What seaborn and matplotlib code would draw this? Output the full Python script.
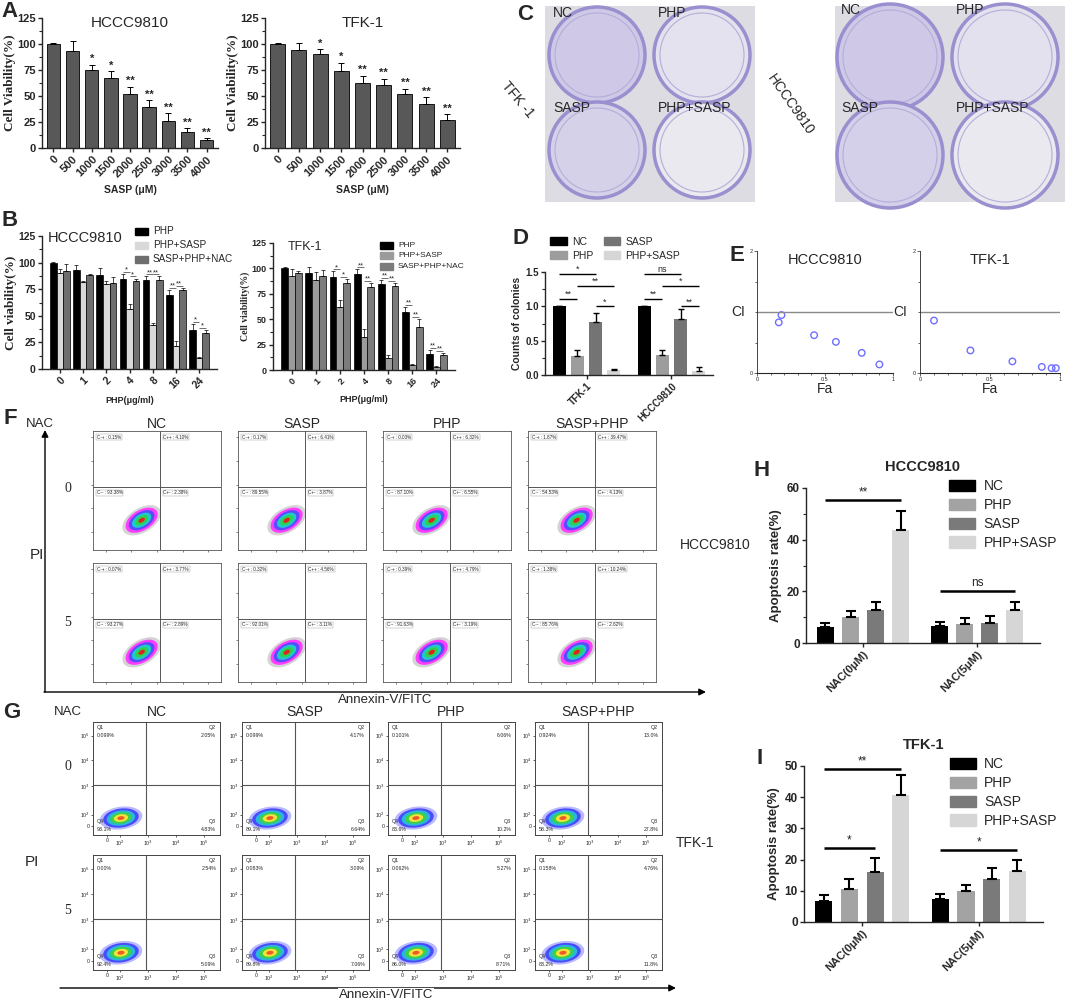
import numpy as np
import pandas as pd
import matplotlib
matplotlib.use('Agg')
import matplotlib.pyplot as plt
import matplotlib.colors as mcolors
from matplotlib.patches import Circle, Ellipse, Rectangle
from matplotlib.ticker import MultipleLocator, AutoMinorLocator
import seaborn as sns

W, H = 1065, 1002

# ---------------- A: SASP dose response
sasp_dose = ['0', '500', '1000', '1500', '2000', '2500', '3000', '3500', '4000']
a_hccc = [100, 93, 75, 67, 52, 39, 26, 15, 8]
a_hccc_err = [0.5, 10, 5, 7, 7, 7, 7.5, 4, 1.5]
a_tfk = [100, 94, 90, 74, 62.5, 61, 52, 42, 26.5]
a_tfk_err = [1, 6.5, 5, 8, 7, 5.5, 5, 7, 6]
a_stars = ['', '', '*', '*', '**', '**', '**', '**', '**']

# ---------------- B: PHP dose response
php_dose = ['0', '1', '2', '4', '8', '16', '24']
b_groups = ['PHP', 'PHP+SASP', 'SASP+PHP+NAC']
b_hccc_php = [100, 93, 88, 85, 84, 70, 37]
b_hccc_php_err = [0.5, 5, 7, 4, 3, 4, 5]
b_hccc_combo = [90, 82, 80, 56, 41, 22, 10]
b_hccc_combo_err = [4, 1, 3, 5, 2, 4, 1]
b_hccc_nac = [92, 88, 81, 83, 84, 74, 34]
b_hccc_nac_err = [7, 1, 5, 2, 3, 2, 3]
b_hccc_stars = [[], [], [], ['*', '*'], ['**', '**'], ['**', '**'], ['*', '*']]
b_tfk_php = [100, 95, 92, 94, 85, 57, 16]
b_tfk_php_err = [1, 6, 5, 5, 4, 5, 4]
b_tfk_combo = [93, 89, 62, 32, 12, 5, 3]
b_tfk_combo_err = [6, 7, 7, 8, 3, 1, 0.5]
b_tfk_nac = [95, 93, 86, 82, 83, 42, 15]
b_tfk_nac_err = [2, 5, 4, 4, 3, 8, 2]
b_tfk_stars = [[], [], ['*', '*'], ['**', '**'], ['**', '**'], ['**', '**'], ['**', '**']]

# ---------------- C / D: colony formation
d_lines = ['TFK-1', 'HCCC9810']
d_groups = ['NC', 'PHP', 'SASP', 'PHP+SASP']
d_nc = [1.0, 1.0]
d_nc_err = [0.0, 0.0]
d_php = [0.28, 0.29]
d_php_err = [0.09, 0.08]
d_sasp = [0.77, 0.81]
d_sasp_err = [0.14, 0.15]
d_combo = [0.07, 0.06]
d_combo_err = [0.02, 0.05]
# (line index, group a, group b, height, label)
d_sig = [(0, 0, 2, 1.47, '*'), (0, 1, 3, 1.30, '**'), (0, 0, 1, 1.11, '**'), (0, 2, 3, 1.00, '*'),
         (1, 0, 2, 1.47, 'ns'), (1, 1, 3, 1.30, '*'), (1, 0, 1, 1.11, '**'), (1, 2, 3, 1.00, '**')]

# ---------------- E: combination index
e_hccc_fa = [0.16, 0.18, 0.42, 0.58, 0.77, 0.90]
e_hccc_ci = [0.83, 0.95, 0.62, 0.51, 0.33, 0.14]
e_tfk_fa = [0.10, 0.36, 0.66, 0.87, 0.94, 0.97]
e_tfk_ci = [0.86, 0.37, 0.19, 0.10, 0.08, 0.08]

# ---------------- F / G: flow cytometry quadrants
flow_conds = ['NC', 'SASP', 'PHP', 'SASP+PHP']
nac_levels = ['0', '5']
f_ul = [[0.15, 0.17, 0.03, 1.87], [0.07, 0.32, 0.39, 1.38]]
f_ur = [[4.10, 6.41, 6.32, 39.47], [3.77, 4.56, 4.79, 10.24]]
f_ll = [[93.38, 89.55, 87.10, 54.53], [93.27, 92.01, 91.63, 85.76]]
f_lr = [[2.38, 3.87, 6.55, 4.13], [2.89, 3.11, 3.19, 2.62]]
g_q1 = [['0.099%', '0.099%', '0.101%', '0.924%'], ['0.00%', '0.083%', '0.062%', '0.158%']]
g_q2 = [['2.05%', '4.17%', '6.06%', '13.0%'], ['2.54%', '3.09%', '5.27%', '4.76%']]
g_q4 = [['93.1%', '89.1%', '83.6%', '58.3%'], ['92.4%', '89.8%', '86.0%', '83.2%']]
g_q3 = [['4.83%', '6.64%', '10.2%', '27.8%'], ['5.09%', '7.06%', '8.71%', '11.8%']]

# ---------------- H / I: apoptosis
nac_cats = ['NAC(0\u03bcM)', 'NAC(5\u03bcM)']
h_nc = [6.2, 6.5]
h_nc_err = [1.5, 1.7]
h_php = [10.1, 7.5]
h_php_err = [2.2, 2.2]
h_sasp = [12.7, 7.8]
h_sasp_err = [3.2, 2.6]
h_combo = [43.8, 12.7]
h_combo_err = [7.4, 3.2]
h_sig = [(0, 0, 3, 55.4, '**'), (1, 0, 3, 20.2, 'ns')]
i_nc = [6.8, 7.5]
i_nc_err = [1.8, 1.6]
i_php = [10.7, 10.0]
i_php_err = [3.0, 2.0]
i_sasp = [16.1, 13.9]
i_sasp_err = [4.3, 3.5]
i_combo = [40.8, 16.5]
i_combo_err = [6.2, 3.5]
i_sig = [(0, 0, 3, 49.0, '**'), (0, 0, 2, 23.6, '*'), (1, 0, 3, 23.0, '*')]

sns.set_style('ticks')
plt.rcParams['font.family'] = ['Liberation Sans', 'DejaVu Sans']
plt.rcParams['axes.linewidth'] = 1.0
SERIF = ['Liberation Serif', 'DejaVu Serif']

fig = plt.figure(figsize=(W / 100, H / 100), dpi=100)


def rect(l, t, r, b):
    return [l / W, 1 - b / H, (r - l) / W, (b - t) / H]


def bars(ax, cats, series, errs, names, colors, width=0.8, gap=0.0, lw=0.6, elw=0.6, cap=2):
    rows = []
    for name, vals in zip(names, series):
        for c, v in zip(cats, vals):
            rows.append({'cat': c, 'val': v, 'grp': name})
    df = pd.DataFrame(rows)
    sns.barplot(data=df, x='cat', y='val', hue='grp', order=cats, hue_order=names,
                palette=colors, width=width, gap=gap, edgecolor='black', linewidth=lw,
                errorbar=None, legend=False, ax=ax)
    centers = []
    for cont, vals, err in zip(ax.containers, series, errs):
        xs = [p.get_x() + p.get_width() / 2 for p in cont.patches]
        ax.errorbar(xs, vals, yerr=[np.zeros(len(vals)), err], fmt='none', ecolor='black',
                    elinewidth=elw, capsize=cap, capthick=elw)
        centers.append(xs)
    sns.despine(ax=ax)
    ax.set_xlabel('')
    ax.set_ylabel('')
    return centers


def bold_ticks(ax, size, rot=45):
    ax.tick_params(axis='both', labelsize=size, width=1, length=3, pad=1.5)
    ax.tick_params(axis='y', which='minor', length=2, width=0.8)
    for lbl in ax.get_yticklabels():
        lbl.set_fontweight('bold')
    for lbl in ax.get_xticklabels():
        lbl.set_fontweight('bold')
        lbl.set_rotation(rot)
        lbl.set_ha('right' if rot else 'center')
        lbl.set_rotation_mode('anchor')


def sig(ax, x1, x2, y, label, lw=0.6, fs=6, dy=0.0):
    ax.plot([x1, x2], [y, y], color='black', lw=lw, solid_capstyle='butt')
    ax.text((x1 + x2) / 2, y + dy, label, ha='center', va='bottom', fontsize=fs)


# ======== Panel A
for (l, r), vals, errs, title in [((42, 218), a_hccc, a_hccc_err, 'HCCC9810'),
                                  ((265, 460), a_tfk, a_tfk_err, 'TFK-1')]:
    ax = fig.add_axes(rect(l, 18, r, 148))
    cx = bars(ax, sasp_dose, [vals], [errs], ['v'], ['#585858'], width=0.7, lw=0.6,
              elw=0.7, cap=2.5)[0]
    for x, v, e, s in zip(cx, vals, errs, a_stars):
        ax.text(x, v + e + 0.5, s, ha='center', va='bottom', fontsize=8, fontweight='bold')
    ax.set_ylim(0, 125)
    ax.set_xlim(-0.6, len(sasp_dose) - 0.4)
    ax.yaxis.set_major_locator(MultipleLocator(25))
    ax.yaxis.set_minor_locator(AutoMinorLocator(2))
    bold_ticks(ax, 8)
    ax.set_ylabel('Cell Viability(%)', family=SERIF, fontweight='bold', fontsize=9.5, labelpad=1)
    ax.text(0.5, 0.96, title, transform=ax.transAxes, ha='center', va='center', fontsize=11)
    ax.set_xlabel('SASP (\u03bcM)', fontweight='bold', fontsize=7.5, labelpad=4)

# ======== Panel B
b_sets = [((42, 236, 217, 369), [b_hccc_php, b_hccc_combo, b_hccc_nac],
           [b_hccc_php_err, b_hccc_combo_err, b_hccc_nac_err], b_hccc_stars,
           ['#000000', '#d9d9d9', '#6e6e6e'], 'HCCC9810', 7.5, 9.5),
          ((273, 243, 455, 370), [b_tfk_php, b_tfk_combo, b_tfk_nac],
           [b_tfk_php_err, b_tfk_combo_err, b_tfk_nac_err], b_tfk_stars,
           ['#000000', '#9b9b9b', '#7c7c7c'], 'TFK-1', 6.5, 7)]
b_axes = []
for box, series, errs, stars, cols, title, tfs, yfs in b_sets:
    ax = fig.add_axes(rect(*box))
    cx = bars(ax, php_dose, series, errs, b_groups, cols, width=0.85, lw=0.5, elw=0.5, cap=1.5)
    for k, st in enumerate(stars):
        if not st:
            continue
        for (g1, g2), s in zip([(0, 1), (1, 2)], st):
            top = max(series[g1][k] + errs[g1][k], series[g2][k] + errs[g2][k]) + 2
            sig(ax, cx[g1][k], cx[g2][k], top, s, lw=0.4, fs=5.5, dy=-1.5)
    ax.set_ylim(0, 125)
    ax.yaxis.set_major_locator(MultipleLocator(25))
    ax.yaxis.set_minor_locator(AutoMinorLocator(2))
    bold_ticks(ax, tfs)
    ax.set_ylabel('Cell viability(%)', family=SERIF, fontweight='bold', fontsize=yfs, labelpad=1)
    ax.set_xlabel('PHP(\u03bcg/ml)', fontweight='bold', fontsize=6.5, labelpad=4)
    b_axes.append((ax, cols))

# ======== Panel D
ax = fig.add_axes(rect(545, 272, 713, 375))
d_cols = ['#000000', '#9d9d9d', '#747474', '#d6d6d6']
dc = bars(ax, d_lines, [d_nc, d_php, d_sasp, d_combo],
          [d_nc_err, d_php_err, d_sasp_err, d_combo_err], d_groups, d_cols,
          width=0.85, gap=0.25, lw=0.0, elw=1.0, cap=2.5)
for li, g1, g2, y, lab in d_sig:
    sig(ax, dc[g1][li], dc[g2][li], y, lab, lw=1.0, fs=6.5, dy=0.0)
ax.set_ylim(0, 1.5)
ax.yaxis.set_major_locator(MultipleLocator(0.5))
ax.yaxis.set_major_formatter(matplotlib.ticker.FormatStrFormatter('%.1f'))
ax.yaxis.set_minor_locator(AutoMinorLocator(2))
bold_ticks(ax, 7)
ax.set_ylabel('Counts of colonies', fontweight='bold', fontsize=7.5, labelpad=2)
ax.legend(handles=[Rectangle((0, 0), 1, 1, color=c) for c in d_cols], labels=d_groups,
          ncol=2, loc='lower left', bbox_to_anchor=(0.0, 1.06), frameon=False, fontsize=7.5,
          handlelength=1.6, handleheight=0.8, columnspacing=1.0, handletextpad=0.5,
          labelspacing=0.35, borderpad=0)

# ======== Panel E
for (l, r), fa, ci, title in [((757, 893), e_hccc_fa, e_hccc_ci, 'HCCC9810'),
                              ((920, 1060), e_tfk_fa, e_tfk_ci, 'TFK-1')]:
    ax = fig.add_axes(rect(l, 251, r, 373))
    ax.axhline(1, color='#8a8a8a', lw=1.0)
    sns.scatterplot(x=fa, y=ci, ax=ax, marker='o', s=22, facecolors='none',
                    edgecolor='#6f6fff', linewidth=1.0)
    ax.set_xlim(0, 1)
    ax.set_ylim(0, 2)
    sns.despine(ax=ax)
    ax.spines['left'].set_linewidth(0.6)
    ax.spines['bottom'].set_linewidth(0.8)
    ax.set_xticks([0, 0.5, 1], ['0', '0.5', '1'])
    ax.xaxis.set_minor_locator(MultipleLocator(0.1))
    ax.set_yticks([0, 2], ['0', '2'])
    ax.yaxis.set_minor_locator(MultipleLocator(0.5))
    ax.tick_params(labelsize=4, length=2, width=0.5, pad=1)
    ax.tick_params(which='minor', length=1.5, width=0.5)
    ax.set_xlabel('Fa', fontsize=10, labelpad=0)
    ax.text(0.5, 0.93, title, transform=ax.transAxes, ha='center', va='center', fontsize=10.5)
    ax.text(-0.09, 1, 'CI', transform=ax.get_yaxis_transform(), ha='right', va='center',
            fontsize=10)

# ======== Panels H and I
hi_cols = ['#000000', '#a3a3a3', '#7a7a7a', '#d6d6d6']
for box, series, errs, sigs, title, step, top in [
        ((806, 488, 1040, 643), [h_nc, h_php, h_sasp, h_combo],
         [h_nc_err, h_php_err, h_sasp_err, h_combo_err], h_sig, 'HCCC9810', 20, 60),
        ((804, 766, 1043, 922), [i_nc, i_php, i_sasp, i_combo],
         [i_nc_err, i_php_err, i_sasp_err, i_combo_err], i_sig, 'TFK-1', 10, 50)]:
    ax = fig.add_axes(rect(*box))
    cx = bars(ax, nac_cats, series, errs, d_groups, hi_cols, width=0.88, gap=0.33,
              lw=0.0, elw=1.5, cap=3.5)
    for li, g1, g2, y, lab in sigs:
        sig(ax, cx[g1][li], cx[g2][li], y, lab, lw=1.8, fs=8.5, dy=top * 0.01)
    ax.set_ylim(0, top)
    ax.set_xlim(-0.5, 1.55)
    ax.yaxis.set_major_locator(MultipleLocator(step))
    if step == 20:
        ax.yaxis.set_minor_locator(AutoMinorLocator(2))
    bold_ticks(ax, 8.5)
    for lbl in ax.get_xticklabels():
        lbl.set_fontsize(8)
    ax.set_ylabel('Apoptosis rate(%)', fontweight='bold', fontsize=9.5, labelpad=3)
    ax.set_title(title, fontweight='bold', fontsize=10.5, pad=12)
    ax.legend(handles=[Rectangle((0, 0), 1, 1, color=c) for c in hi_cols], labels=d_groups,
              loc='upper left', bbox_to_anchor=(0.58, 1.1), frameon=False, fontsize=10,
              handlelength=1.9, handleheight=0.9, labelspacing=0.35, handletextpad=0.6,
              borderpad=0)


# ======== Panels F and G (flow cytometry quadrant summaries)
def blob(ax, x, y, w, h, ang, colors):
    for k, c in enumerate(colors):
        f = 1 - k / len(colors)
        ax.add_patch(Ellipse((x, y), w * f, h * f, angle=ang, color=c, lw=0, zorder=1))


f_cols = [93, 238, 383, 528]
f_rows = [(431, 550), (563, 682)]
for ri, (t, b) in enumerate(f_rows):
    for ci, l in enumerate(f_cols):
        ax = fig.add_axes(rect(l, t, l + 128, b))
        ax.set_xlim(0, 1)
        ax.set_ylim(0, 1)
        blob(ax, 0.38, 0.25, 0.34, 0.2, 35,
             ['#d4d4d4', '#ff3dff', '#5a4bff', '#22c9c9', '#2bd24b', '#e0231f'])
        ax.axvline(0.52, color='#555555', lw=0.7)
        ax.axhline(0.53, color='#555555', lw=0.7)
        box = dict(boxstyle='square,pad=0.15', fc='white', ec='#999999', lw=0.3)
        kw = dict(fontsize=3.3, va='top', ha='left', bbox=box, zorder=3)
        ax.text(0.03, 0.97, 'C-+ : %.2f%%' % f_ul[ri][ci], **kw)
        ax.text(0.55, 0.97, 'C++ : %.2f%%' % f_ur[ri][ci], **kw)
        ax.text(0.03, 0.50, 'C-- : %.2f%%' % f_ll[ri][ci], **kw)
        ax.text(0.55, 0.50, 'C+- : %.2f%%' % f_lr[ri][ci], **kw)
        ax.set_xticks([0.1, 0.3, 0.5, 0.7, 0.9], [])
        ax.set_yticks([0.15, 0.35, 0.55, 0.75, 0.95], [])
        ax.tick_params(length=1.5, width=0.4)
        for sp in ax.spines.values():
            sp.set_linewidth(0.6)
            sp.set_color('#555555')

g_cols = [93, 242, 388, 535]
g_rows = [(722, 835), (855, 970)]
g_tick_x = [0.11, 0.21, 0.43, 0.65, 0.875]
g_tick_y = [0.08, 0.18, 0.43, 0.66, 0.88]
g_tick_lab = ['0', '10$^2$', '10$^3$', '10$^4$', '10$^5$']
for ri, (t, b) in enumerate(g_rows):
    for ci, l in enumerate(g_cols):
        ax = fig.add_axes(rect(l, t, l + 127, b))
        ax.set_xlim(0, 1)
        ax.set_ylim(0, 1)
        blob(ax, 0.22, 0.15, 0.34, 0.2, 10,
             ['#b9b9ff', '#4a4aff', '#27b9d9', '#3fcf4b', '#f2e43a', '#f05a28'])
        ax.axvline(0.42, color='#555555', lw=0.8)
        ax.axhline(0.44, color='#555555', lw=0.8)
        kw = dict(fontsize=3.8, linespacing=1.6, zorder=3)
        ax.text(0.03, 0.97, 'Q1\n' + g_q1[ri][ci], va='top', ha='left', **kw)
        ax.text(0.97, 0.97, 'Q2\n' + g_q2[ri][ci], va='top', ha='right', **kw)
        ax.text(0.03, 0.03, 'Q4\n' + g_q4[ri][ci], va='bottom', ha='left', **kw)
        ax.text(0.97, 0.03, 'Q3\n' + g_q3[ri][ci], va='bottom', ha='right', **kw)
        ax.set_xticks(g_tick_x, g_tick_lab)
        ax.set_yticks(g_tick_y, g_tick_lab)
        ax.tick_params(labelsize=3.8, length=1.5, width=0.5, pad=1)
        for sp in ax.spines.values():
            sp.set_linewidth(0.7)
            sp.set_color('#444444')

# ======== overlay: labels, legends of B, colony plates (C), frames
bg = fig.add_axes([0, 0, 1, 1])
bg.set_xlim(0, W)
bg.set_ylim(H, 0)
bg.axis('off')
bg.set_zorder(5)

for lab, x, y in [('A', 9, 11), ('B', 10, 220), ('C', 525, 14), ('D', 520, 238),
                  ('E', 737, 255), ('F', 10, 418), ('G', 12, 712), ('H', 762, 470),
                  ('I', 760, 758)]:
    bg.text(x, y, lab, fontsize=16, fontweight='bold', ha='center', va='center')

# B titles and legends
bg.text(85, 238, 'HCCC9810', fontsize=10.5, ha='center', va='center')
bg.text(305, 247, 'TFK-1', fontsize=9, ha='center', va='center')
for (hx, y0, dy, fs), (_, cols) in zip([(135, 231, 14, 7.2), (380, 245, 10.5, 6.0)], b_axes):
    for k, (name, c) in enumerate(zip(b_groups, cols)):
        bg.add_patch(Rectangle((hx, y0 + k * dy - 3.5), 13, 7, color=c))
        bg.text(hx + 18, y0 + k * dy, name, fontsize=fs, va='center', ha='left')

# C: colony plates, stain intensity follows colony counts of panel D
clean = np.array(mcolors.to_rgb('#ecebf1'))
stain = np.array(mcolors.to_rgb('#8a7ad0'))
for (x0, x1), line_idx, (cxs, cys, r) in [((545, 755), 0, ((597, 702), (55, 150), 48)),
                                          ((835, 1065), 1, ((890, 1005), (57, 155), 53))]:
    bg.add_patch(Rectangle((x0, 6), x1 - x0, 196, color='#dcdce2', lw=0))
    counts = [d_nc[line_idx], d_php[line_idx], d_sasp[line_idx], d_combo[line_idx]]
    for k, (name, cnt) in enumerate(zip(d_groups, counts)):
        cx, cy = cxs[k % 2], cys[k // 2]
        fc = clean + (stain - clean) * (0.3 * cnt)
        bg.add_patch(Circle((cx, cy), r, fc=fc, ec='#9a8fcf', lw=2.5))
        bg.add_patch(Circle((cx, cy), r - 6, fc='none', ec='#b5add8', lw=0.8))
        bg.text(cx - r + 4, cys[k // 2] - r + 6, name, fontsize=10, ha='left', va='center')
bg.text(518, 100, 'TFK -1', fontsize=10, rotation=-50, ha='center', va='center')
bg.text(790, 105, 'HCCC9810', fontsize=10, rotation=-55, ha='center', va='center')

# F / G headers, axes arrows, side labels
for y, nx, xs in [(424, 40, [157, 302, 447, 592]), (712, 68, [157, 305, 451, 598])]:
    bg.text(nx, y, 'NAC', fontsize=9.5, ha='center', va='center')
    for x, name in zip(xs, flow_conds):
        bg.text(x, y, name, fontsize=10, ha='center', va='center')
for lvl, y in zip(nac_levels, [488, 623]):
    bg.text(68, y, lvl, fontsize=10, family=SERIF, ha='center', va='center')
for lvl, y in zip(nac_levels, [767, 910]):
    bg.text(68, y, lvl, fontsize=10, family=SERIF, ha='center', va='center')
bg.annotate('', xy=(45, 430), xytext=(45, 692),
            arrowprops=dict(arrowstyle='-|>', lw=1.0, color='black', shrinkA=0, shrinkB=0))
bg.annotate('', xy=(706, 692), xytext=(44, 692),
            arrowprops=dict(arrowstyle='-|>', lw=1.0, color='black', shrinkA=0, shrinkB=0))
bg.text(37, 555, 'PI', fontsize=11, ha='center', va='center')
bg.text(385, 700, 'Annexin-V/FITC', fontsize=9.5, ha='center', va='center')
bg.text(715, 545, 'HCCC9810', fontsize=10, ha='center', va='center')
bg.annotate('', xy=(676, 988), xytext=(60, 988),
            arrowprops=dict(arrowstyle='-|>', lw=1.0, color='black', shrinkA=0, shrinkB=0))
bg.text(386, 995, 'Annexin-V/FITC', fontsize=9.5, ha='center', va='center',
        bbox=dict(fc='white', ec='none', pad=0.5))
bg.text(32, 862, 'PI', fontsize=11, ha='center', va='center')
bg.text(695, 843, 'TFK-1', fontsize=10, ha='center', va='center')

fig.savefig('out.png', dpi=100)
